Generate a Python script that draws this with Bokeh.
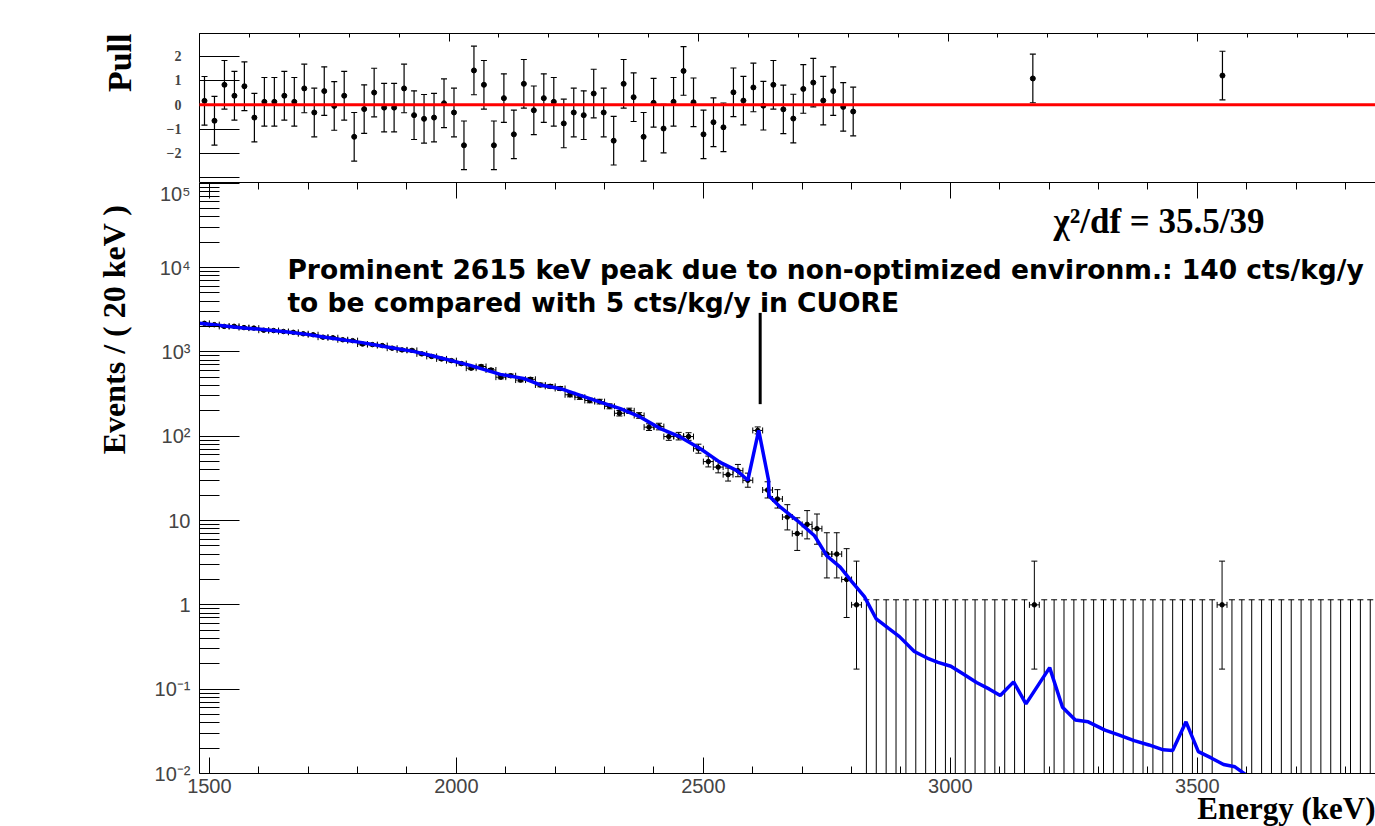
from bokeh.plotting import figure
from bokeh.layouts import column
from bokeh.models import (ColumnDataSource, Whisker, TeeHead, Label, Arrow, FixedTicker,
                          SingleIntervalTicker, LinearAxis, LogAxis, Range1d, LogScale, Title,
                          CustomJSTickFormatter)
from bokeh.embed import file_html
from bokeh.resources import INLINE

# ---------------- data ----------------
bin_width = 20
# bins with counts (centres 1490 ... 2810 keV)
data_energy = list(range(1490, 2811, 20))
data_counts = [2180, 2102, 2005, 2011, 1941, 1913, 1807, 1790, 1745, 1705,
               1640, 1597, 1493, 1471, 1393, 1359, 1238, 1219, 1187, 1106,
               1056, 1041, 947, 883, 825, 787, 726, 641, 671, 610,
               501, 521, 463, 473, 405, 390, 368, 310, 290, 265,
               257, 226, 187, 200, 176, 128, 130, 99, 100, 99,
               71, 50, 43, 35, 39, 30, 117, 23, 18, 11,
               7, 9, 8, 4, 4, 2, 1]
# isolated single events at high energy
single_energy = [3170, 3550]
single_counts = [1, 1]
# empty bins (drawn as upper-limit error bars only)
empty_energy = [e for e in range(2830, 4000, 20) if e not in single_energy]

# fitted model curve
model_energy = [1480, 1490, 1522, 1559, 1603, 1658, 1698, 1731, 1806, 1860,
                1913, 1953, 2028, 2089, 2136, 2170, 2211, 2251, 2291, 2332,
                2372, 2413, 2453, 2494, 2534, 2568, 2590, 2612, 2632, 2633,
                2656, 2690, 2725, 2750, 2777, 2800, 2826, 2850, 2875, 2897,
                2927, 2953, 2975, 3001, 3027, 3053, 3079, 3101, 3128, 3153,
                3201, 3227, 3253, 3279, 3313, 3342, 3372, 3402, 3431, 3450,
                3477, 3502, 3528, 3553, 3576, 3598]
model_counts = [2190, 2160, 2060, 1950, 1850, 1720, 1613, 1500, 1296, 1140,
                1014, 892, 692, 541, 485, 405, 366, 305, 254, 212,
                169, 123, 98, 71, 49, 39, 30, 117, 30, 19.5,
                14.4, 10.0, 6.6, 3.8, 2.8, 1.9, 1.25, 0.68, 0.525, 0.42,
                0.28, 0.234, 0.208, 0.187, 0.150, 0.120, 0.100, 0.084, 0.122, 0.067,
                0.180, 0.061, 0.043, 0.041, 0.0327, 0.0285, 0.0245, 0.0218, 0.0191, 0.0187,
                0.041, 0.0182, 0.0153, 0.0128, 0.0120, 0.0097]

# pulls
pull_energy = list(range(1510, 2811, 20)) + [3170, 3550]
pull_values = [0.16, -0.66, 0.82, 0.37, 0.76, -0.53, 0.12, 0.12, 0.37, 0.12,
               0.67, -0.32, 0.56, -0.05, 0.37, -1.32, -0.18, 0.50, -0.12, -0.12,
               0.67, -0.43, -0.58, -0.53, 0.06, -0.32, -1.67, 1.41, 0.82, -1.67,
               0.27, -1.22, 0.86, -0.23, 0.27, 0.12, -0.77, -0.32, -0.43, 0.46,
               -0.32, -1.48, 0.86, 0.31, -1.32, 0.08, -0.98, 0.12, 1.39, 0.10,
               -1.22, -0.72, -0.93, 0.51, 0.17, 0.71, -0.04, 0.82, -0.19, -0.57,
               0.65, 0.91, 0.17, 0.56, -0.09, -0.28,
               1.08, 1.20]

pull_ticks = [-2, -1, 0, 1, 2]
pull_tick_labels = ["\u22122", "\u22121", "0", "1", "2"]
pull_unlabelled_ticks = [-3]
count_ticks = [0.01, 0.1, 1, 10, 100, 1000, 10000, 100000]
count_tick_labels = ["10\u207b\u00b2", "10\u207b\u00b9", "1", "10", "10\u00b2", "10\u00b3", "10\u2074", "10\u2075"]

annotation_line1 = "Prominent 2615 keV peak due to non-optimized environm.: 140 cts/kg/y"
annotation_line2 = "to be compared with 5 cts/kg/y in CUORE"
chi2_text = "\u03c7\u00b2/df = 35.5/39"
x_title = "Energy (keV)"
y_title = "Events / ( 20 keV )"
pull_title = "Pull"


# Poisson (Garwood) 68% intervals used by RooFit for counts
def poisson_interval(n):
    table = {0: (0.0, 1.148), 1: (0.173, 3.300), 2: (0.708, 4.638), 3: (1.367, 5.918),
             4: (2.086, 7.163), 5: (2.840, 8.382), 6: (3.620, 9.584), 7: (4.419, 10.77),
             8: (5.232, 11.95), 9: (6.057, 13.11), 10: (6.891, 14.27), 11: (7.734, 15.42)}
    if n in table:
        return table[n]
    s = n ** 0.5
    return (n - s + 0.3, n + s + 1.0)


W = 1375
LEFT = 199
TOP_H = 182
MAIN_H = 826 - TOP_H
SERIF = "Liberation Serif"
SANS = "Liberation Sans"
blank = CustomJSTickFormatter(code="return ''")

# ---------------- pull panel ----------------
pull = figure(width=W, height=TOP_H, x_range=Range1d(1500, 3856.7), y_range=Range1d(-3.2, 2.93),
              output_backend="svg", toolbar_location=None,
              x_axis_location=None, y_axis_location=None,
              min_border_left=LEFT, min_border_right=0, min_border_top=33, min_border_bottom=0)
pull.outline_line_color = None
pull.grid.visible = False

pl_axis = LinearAxis(ticker=FixedTicker(ticks=pull_ticks, minor_ticks=pull_unlabelled_ticks),
                     major_tick_in=40, major_tick_out=0, minor_tick_in=40, minor_tick_out=0,
                     major_label_overrides={t: l for t, l in zip(pull_ticks, pull_tick_labels)},
                     major_label_text_font=SERIF, major_label_text_font_style="bold",
                     major_label_text_font_size="14px", major_label_standoff=18,
                     axis_line_color="black", major_tick_line_color="black",
                     minor_tick_line_color="black")
pull.add_layout(pl_axis, "left")
pull.add_layout(Title(text=pull_title, align="right", offset=0, standoff=51, text_font=SERIF,
                      text_font_style="bold", text_font_size="34px", text_color="black"), "left")
pt_axis = LinearAxis(ticker=SingleIntervalTicker(interval=500, num_minor_ticks=5),
                     major_tick_in=8, major_tick_out=0, minor_tick_in=4, minor_tick_out=0,
                     formatter=blank, major_label_standoff=0, axis_line_color="black")
pull.add_layout(pt_axis, "above")

psrc = ColumnDataSource(dict(x=pull_energy, y=pull_values,
                             lo=[v - 1 for v in pull_values], hi=[v + 1 for v in pull_values]))
pull.add_layout(Whisker(source=psrc, base="x", lower="lo", upper="hi", dimension="height",
                        line_color="black", line_width=1.2, level="underlay",
                        lower_head=TeeHead(size=6, line_color="black", line_width=1.2),
                        upper_head=TeeHead(size=6, line_color="black", line_width=1.2)))
pull.scatter("x", "y", source=psrc, size=5, color="black")
pull.add_layout(Arrow(end=None, x_start=1227, y_start=0, x_end=3900, y_end=0,
                      line_color="red", line_width=3))

# ---------------- main panel ----------------
main = figure(width=W, height=MAIN_H, x_range=Range1d(1480, 3860.6), y_range=Range1d(0.01, 1.02e5),
              y_axis_type="log", y_scale=LogScale(),
              output_backend="svg", toolbar_location=None,
              x_axis_location=None, y_axis_location=None,
              min_border_left=LEFT, min_border_right=0, min_border_top=0, min_border_bottom=53)
main.outline_line_color = None
main.grid.visible = False

minor_log = [m * 10.0 ** e for e in range(-2, 5) for m in range(2, 10)]
ml_axis = LogAxis(ticker=FixedTicker(ticks=count_ticks, minor_ticks=minor_log),
                  major_tick_in=40, major_tick_out=0, minor_tick_in=20, minor_tick_out=0,
                  major_label_overrides={t: l for t, l in zip(count_ticks, count_tick_labels)},
                  major_label_text_font=SANS, major_label_text_font_size="20px",
                  major_label_standoff=9, axis_line_color="black")
main.add_layout(ml_axis, "left")
main.add_layout(Title(text=y_title, align="right", offset=22, standoff=40, text_font=SERIF,
                      text_font_style="bold", text_font_size="32px", text_color="black"), "left")
mb_axis = LinearAxis(ticker=SingleIntervalTicker(interval=500, num_minor_ticks=5),
                     major_tick_in=16, major_tick_out=0, minor_tick_in=7, minor_tick_out=0,
                     major_label_text_font=SANS, major_label_text_font_size="20px",
                     major_label_standoff=5, axis_line_color="black")
main.add_layout(mb_axis, "below")
main.add_layout(Title(text=x_title, align="right", offset=0, standoff=-14, text_font=SERIF,
                      text_font_style="bold", text_font_size="31px", text_color="black"), "below")
ma_axis = LinearAxis(ticker=SingleIntervalTicker(interval=500, num_minor_ticks=5),
                     major_tick_in=16, major_tick_out=0, minor_tick_in=7, minor_tick_out=0,
                     formatter=blank, major_label_standoff=0, axis_line_color="black")
main.add_layout(ma_axis, "above")

all_e = data_energy + single_energy
all_n = data_counts + single_counts
intervals = [poisson_interval(n) for n in all_n]
dsrc = ColumnDataSource(dict(x=all_e, y=all_n,
                             lo=[a for a, b in intervals], hi=[b for a, b in intervals],
                             xl=[e - bin_width / 2 for e in all_e],
                             xh=[e + bin_width / 2 for e in all_e]))
head = dict(line_color="black", line_width=1)
main.add_layout(Whisker(source=dsrc, base="x", lower="lo", upper="hi", dimension="height",
                        line_color="black", line_width=1, level="underlay",
                        lower_head=TeeHead(size=6, **head), upper_head=TeeHead(size=6, **head)))
main.add_layout(Whisker(source=dsrc, base="y", lower="xl", upper="xh", dimension="width",
                        line_color="black", line_width=1, level="underlay",
                        lower_head=TeeHead(size=6, **head), upper_head=TeeHead(size=6, **head)))
empty_up = [poisson_interval(0)[1]] * len(empty_energy)
esrc = ColumnDataSource(dict(x=empty_energy, lo=[1e-6] * len(empty_energy), hi=empty_up))
main.add_layout(Whisker(source=esrc, base="x", lower="lo", upper="hi", dimension="height",
                        line_color="black", line_width=1, level="underlay",
                        lower_head=None, upper_head=TeeHead(size=6, **head)))
main.scatter("x", "y", source=dsrc, size=4.5, color="black")
main.line(model_energy, model_counts, line_color="#0000ff", line_width=3.5)

main.add_layout(Label(x=1658, y=9500, text=annotation_line1, text_font="DejaVu Sans",
                      text_font_style="bold", text_font_size="26.5px", text_color="black",
                      text_baseline="alphabetic"))
main.add_layout(Label(x=1658, y=3900, text=annotation_line2, text_font="DejaVu Sans",
                      text_font_style="bold", text_font_size="26.5px", text_color="black",
                      text_baseline="alphabetic"))
main.add_layout(Arrow(end=None, x_start=2615, y_start=2900, x_end=2615, y_end=240,
                      line_color="black", line_width=3))
main.add_layout(Label(x=3209, y=35000, text=chi2_text, text_font=SERIF, text_font_style="bold",
                      text_font_size="35px", text_color="black", text_baseline="alphabetic"))

layout = column(pull, main, spacing=0)
open("out.html", "w").write(file_html(layout, INLINE))
